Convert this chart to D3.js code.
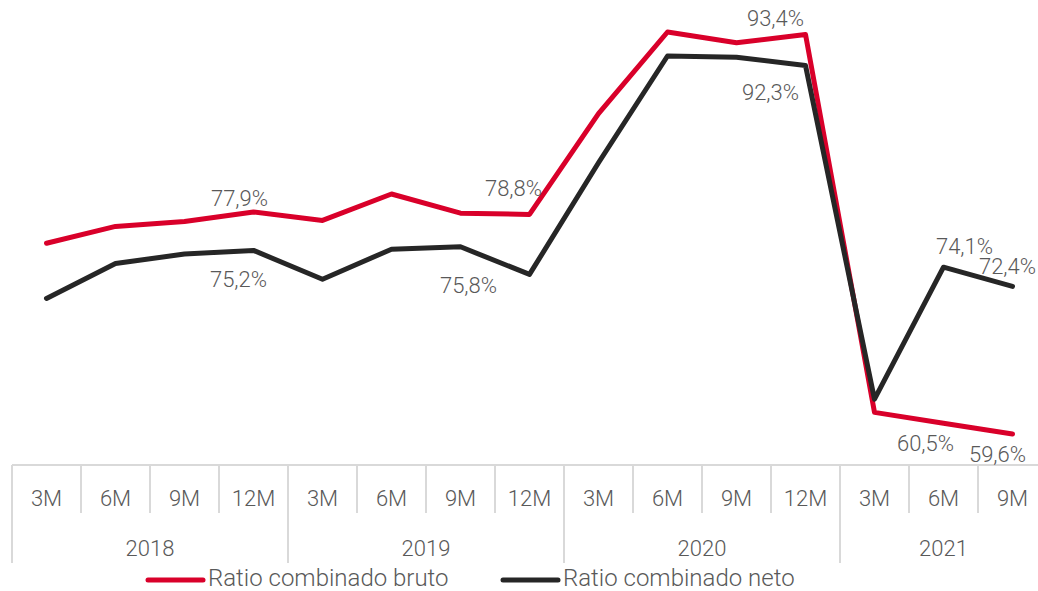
<!DOCTYPE html>
<html>
<head>
<meta charset="utf-8">
<script src="https://cdn.jsdelivr.net/npm/d3@7"></script>
<style>
  html, body { margin: 0; padding: 0; background: #ffffff; }
  svg { display: block; }
  text { font-family: Roboto, "Liberation Sans", sans-serif; font-weight: 300; fill: #595959; }
</style>
</head>
<body>
<svg id="chart" width="1038" height="591"></svg>
<script>
// ---- data ----
const years = ["2018", "2019", "2020", "2021"];
const periods = ["3M", "6M", "9M", "12M", "3M", "6M", "9M", "12M", "3M", "6M", "9M", "12M", "3M", "6M", "9M"];
const periodYear = [0, 0, 0, 0, 1, 1, 1, 1, 2, 2, 2, 2, 3, 3, 3];
const bruto = [75.4, 76.8, 77.2, 78.0, 77.3, 79.5, 77.9, 77.8, 86.2, 93.0, 92.1, 92.8, 61.3, 60.4, 59.5];
const neto  = [70.8, 73.7, 74.5, 74.8, 72.4, 74.9, 75.1, 72.8, 82.1, 91.0, 90.9, 90.2, 62.4, 73.4, 71.8];
const brutoLabelIdx = [3, 7, 11, 13, 14];
const brutoLabels = ["77,9%", "78,8%", "93,4%", "60,5%", "59,6%"];
const netoLabelIdx = [3, 7, 11, 13, 14];
const netoLabels = ["75,2%", "75,8%", "92,3%", "74,1%", "72,4%"];
const seriesNames = ["Ratio combinado bruto", "Ratio combinado neto"];

// ---- styles / layout ----
const colors = ["#d9002a", "#262626"];
const gridColor = "#d9d9d9";
const fontSize = 22;
const legendFontSize = 24;
// label offsets (dx, dy) relative to the point, per series
const brutoOffsets = [[-14, -6], [-16, -18], [-30, -8], [-18, 28], [-15, 28]];
const netoOffsets = [[-15, 37], [-61, 19], [-35, 34], [21, -13], [-5, -12]];

const svg = d3.select("#chart");
const plotLeft = 12, plotRight = 1047;
const axisY = 465;

const x = d3.scaleBand().domain(d3.range(periods.length)).range([plotLeft, plotRight]).padding(0);
const cx = i => x(i) + x.bandwidth() / 2;
const y = d3.scaleLinear().domain([55, 95]).range([488, 8]);

// ---- axis ----
const axisG = svg.append("g");
axisG.append("line")
  .attr("x1", plotLeft).attr("x2", plotRight)
  .attr("y1", axisY).attr("y2", axisY)
  .attr("stroke", gridColor).attr("stroke-width", 2);

const boundaries = d3.range(periods.length + 1);
axisG.selectAll("line.sep").data(boundaries).enter().append("line")
  .attr("class", "sep")
  .attr("x1", i => i < periods.length ? x(i) : plotRight)
  .attr("x2", i => i < periods.length ? x(i) : plotRight)
  .attr("y1", axisY)
  .attr("y2", i => (i === 0 || i === periods.length || periodYear[i] !== periodYear[i - 1]) ? 563 : 513)
  .attr("stroke", gridColor).attr("stroke-width", 2);

axisG.selectAll("text.period").data(periods).enter().append("text")
  .attr("class", "period")
  .attr("x", (d, i) => cx(i)).attr("y", 506)
  .attr("text-anchor", "middle")
  .style("font-size", fontSize + "px")
  .text(d => d);

const yearExtent = years.map((yr, k) => {
  const idx = d3.range(periods.length).filter(i => periodYear[i] === k);
  return { yr, x0: x(idx[0]), x1: x(idx[idx.length - 1]) + x.bandwidth() };
});
axisG.selectAll("text.year").data(yearExtent).enter().append("text")
  .attr("class", "year")
  .attr("x", d => (d.x0 + d.x1) / 2).attr("y", 556)
  .attr("text-anchor", "middle")
  .style("font-size", fontSize + "px")
  .text(d => d.yr);

// ---- lines ----
const line = d3.line().x((d, i) => cx(i)).y(d => y(d));
[bruto, neto].forEach((s, k) => {
  svg.append("path")
    .datum(s)
    .attr("d", line)
    .attr("fill", "none")
    .attr("stroke", colors[k])
    .attr("stroke-width", 5)
    .attr("stroke-linecap", "round")
    .attr("stroke-linejoin", "round");
});

// ---- data labels ----
function addLabels(series, idxs, labels, offsets) {
  svg.append("g").selectAll("text").data(idxs).enter().append("text")
    .attr("x", (d, j) => cx(d) + offsets[j][0])
    .attr("y", (d, j) => y(series[d]) + offsets[j][1])
    .attr("text-anchor", "middle")
    .style("font-size", fontSize + "px")
    .text((d, j) => labels[j]);
}
addLabels(bruto, brutoLabelIdx, brutoLabels, brutoOffsets);
addLabels(neto, netoLabelIdx, netoLabels, netoOffsets);

// ---- legend ----
const legendItems = [{ x: 148, name: seriesNames[0], c: colors[0] }, { x: 503, name: seriesNames[1], c: colors[1] }];
const lg = svg.append("g").selectAll("g").data(legendItems).enter().append("g");
lg.append("line")
  .attr("x1", d => d.x).attr("x2", d => d.x + 55)
  .attr("y1", 580).attr("y2", 580)
  .attr("stroke", d => d.c).attr("stroke-width", 5).attr("stroke-linecap", "round");
lg.append("text")
  .attr("x", d => d.x + 60).attr("y", 585.5)
  .style("font-size", legendFontSize + "px")
  .text(d => d.name);
</script>
</body>
</html>
